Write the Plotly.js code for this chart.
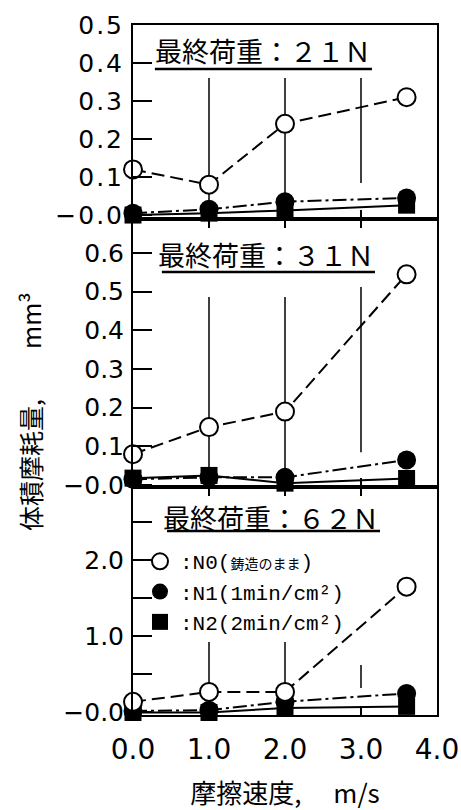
<!DOCTYPE html>
<html>
<head>
<meta charset="utf-8">
<script src="https://cdn.plot.ly/plotly-3.0.1.min.js"></script>
<style>
  html, body { margin: 0; padding: 0; background: #fff; }
  #chart { width: 461px; height: 810px; }
  /* wide, airy numerals on the value and speed axes */
  #chart .ytick text, #chart .xtick text { letter-spacing: 2px; }
</style>
</head>
<body>
<div id="chart"></div>
<script>
// Sliding speed (m/s) at which each specimen was tested
const speed = [0.0, 1.0, 2.0, 3.6];

// Volumetric wear (mm^3), final load 21 N
const n0_21N = [0.12, 0.08, 0.24, 0.31];
const n1_21N = [0.005, 0.015, 0.035, 0.045];
const n2_21N = [0.0, 0.005, 0.012, 0.026];

// Volumetric wear (mm^3), final load 31 N
const n0_31N = [0.08, 0.15, 0.19, 0.545];
const n1_31N = [0.015, 0.02, 0.02, 0.065];
const n2_31N = [0.018, 0.025, 0.005, 0.017];

// Volumetric wear (mm^3), final load 62 N
const n0_62N = [0.14, 0.27, 0.27, 1.65];
const n1_62N = [0.02, 0.03, 0.14, 0.25];
const n2_62N = [0.0, 0.0, 0.06, 0.08];

// Panel headings and legend names
const panelTitles = ['最終荷重：２１Ｎ', '最終荷重：３１Ｎ', '最終荷重：６２Ｎ'];
const seriesNames = [
  ':N0(<span style="font-size:14px">鋳造のまま</span>)',
  ':N1(1min/cm\u00b2)',
  ':N2(2min/cm\u00b2)'
];

// Axis ticks
const xTickVals = [0, 1, 2, 3, 4];
const xTickText = ['0.0', '1.0', '2.0', '3.0', '4.0'];
const yTickVals21 = [0, 0.1, 0.2, 0.3, 0.4, 0.5];
const yTickText21 = ['\u22120.0', '0.1', '0.2', '0.3', '0.4', '0.5'];
const yTickVals31 = [0, 0.1, 0.2, 0.3, 0.4, 0.5, 0.6];
const yTickText31 = ['\u22120.0', '0.1', '0.2', '0.3', '0.4', '0.5', '0.6'];
const yTickVals62 = [0, 1.0, 2.0];
const yTickText62 = ['\u22120.0', '1.0', '2.0'];
const yMinorStep62 = 0.5;

const INK = '#000';
const numFont = { family: 'DejaVu Sans, sans-serif', color: INK };
const cjkFont = { family: 'Noto Sans CJK JP, sans-serif', color: INK };

// Series styles: open circles / dashed, filled circles / dash-dot, squares / solid
const styleN0 = {
  mode: 'lines+markers',
  line: { color: INK, width: 2, dash: '13px,6px' },
  marker: { symbol: 'circle', size: 18, color: '#fff', line: { color: INK, width: 2 } }
};
const styleN1 = {
  mode: 'lines+markers',
  line: { color: INK, width: 2, dash: '14px,4px,3px,4px' },
  marker: { symbol: 'circle', size: 19, color: INK, line: { width: 0 } }
};
const styleN2 = {
  mode: 'lines+markers',
  line: { color: INK, width: 2 },
  marker: { symbol: 'square', size: 17, color: INK, line: { width: 0 } }
};

function series(style, ys, xa, ya, name) {
  return Object.assign({}, style, {
    x: speed, y: ys, xaxis: xa, yaxis: ya, name: name,
    showlegend: false, hoverinfo: 'x+y', cliponaxis: false
  });
}

// Marker-only entries for the legend in the 62 N panel
function legendEntry(style, name) {
  return {
    x: [null], y: [null], xaxis: 'x3', yaxis: 'y3', mode: 'markers',
    marker: style.marker, name: name, showlegend: true, hoverinfo: 'skip'
  };
}

const data = [
  series(styleN2, n2_21N, 'x', 'y', 'N2'),
  series(styleN1, n1_21N, 'x', 'y', 'N1'),
  series(styleN0, n0_21N, 'x', 'y', 'N0'),
  series(styleN2, n2_31N, 'x2', 'y2', 'N2'),
  series(styleN1, n1_31N, 'x2', 'y2', 'N1'),
  series(styleN0, n0_31N, 'x2', 'y2', 'N0'),
  series(styleN2, n2_62N, 'x3', 'y3', 'N2'),
  series(styleN1, n1_62N, 'x3', 'y3', 'N1'),
  series(styleN0, n0_62N, 'x3', 'y3', 'N0'),
  legendEntry(styleN0, seriesNames[0]),
  legendEntry(styleN1, seriesNames[1]),
  legendEntry(styleN2, seriesNames[2])
];

function xAxis(anchor, showLabels, mirror) {
  return {
    anchor: anchor, range: [0, 4], showgrid: false, zeroline: false,
    showline: true, linecolor: INK, linewidth: 2, mirror: mirror,
    tickmode: 'array', tickvals: xTickVals, ticktext: xTickText,
    ticks: 'inside', ticklen: 9, tickwidth: 1.5, tickcolor: INK,
    showticklabels: showLabels, tickfont: Object.assign({ size: 28 }, numFont),
    ticklabelstandoff: 8, fixedrange: true
  };
}

function yAxis(anchor, domain, range, vals, text) {
  return {
    anchor: anchor, domain: domain, range: range, showgrid: false, zeroline: false,
    showline: true, linecolor: INK, linewidth: 2, mirror: true,
    tickmode: 'array', tickvals: vals, ticktext: text,
    ticks: 'inside', ticklen: 19, tickwidth: 2, tickcolor: INK,
    tickfont: Object.assign({ size: 25 }, numFont), ticklabelstandoff: 2,
    fixedrange: true
  };
}

// Short tick stubs on the outer side of each value axis
function yStub(base, range, vals) {
  return {
    overlaying: base, anchor: 'free', position: 0, range: range,
    showgrid: false, zeroline: false, showline: false,
    tickmode: 'array', tickvals: vals, ticks: 'outside', ticklen: 5,
    tickwidth: 2, tickcolor: INK, showticklabels: false, fixedrange: true
  };
}

const range21 = [-0.0105, 0.5];
const range31 = [-0.005, 0.688];
const range62 = [-0.033, 2.957];

// Partial vertical guide lines at 1, 2 and 3 m/s
function guide(xa, ya, xv, y0, y1) {
  return {
    type: 'line', layer: 'below', xref: xa, yref: ya + ' domain',
    x0: xv, x1: xv, y0: y0, y1: y1, line: { color: INK, width: 1.5 }
  };
}
function underline(ya, xa, x0, x1, yv) {
  return {
    type: 'line', xref: xa + ' domain', yref: ya + ' domain',
    x0: x0, x1: x1, y0: yv, y1: yv, line: { color: INK, width: 2.5 }
  };
}

const shapes = [
  guide('x', 'y', 1, 0, 0.727), guide('x', 'y', 2, 0, 0.727), guide('x', 'y', 3, 0.186, 0.727),
  guide('x2', 'y2', 1, 0, 0.709), guide('x2', 'y2', 2, 0, 0.709), guide('x2', 'y2', 3, 0.13, 0.746),
  guide('x3', 'y3', 1, 0, 0.32), guide('x3', 'y3', 2, 0, 0.32), guide('x3', 'y3', 3, 0.118, 0.219),
  underline('y', 'x', 0.072, 0.786, 0.773),
  underline('y2', 'x2', 0.095, 0.796, 0.802),
  underline('y3', 'x3', 0.112, 0.8125, 0.807)
];

function heading(xa, ya, text, xv, yv) {
  return {
    xref: xa + ' domain', yref: ya + ' domain', x: xv, y: yv,
    xanchor: 'center', yanchor: 'middle', showarrow: false, text: text,
    font: Object.assign({ size: 27 }, cjkFont)
  };
}

const annotations = [
  heading('x', 'y', panelTitles[0], 0.429, 0.871),
  heading('x2', 'y2', panelTitles[1], 0.4375, 0.866),
  heading('x3', 'y3', panelTitles[2], 0.454, 0.868),
  {
    xref: 'paper', yref: 'paper', x: -0.339, y: 0.4406, textangle: -90,
    xanchor: 'center', yanchor: 'middle', showarrow: false,
    text: '体積摩耗量,\u3000\u3000mm\u00b3',
    font: Object.assign({ size: 25 }, cjkFont)
  }
];

const stub62 = yStub('y3', range62, null);
stub62.tickmode = 'linear';
stub62.tick0 = 0;
stub62.dtick = yMinorStep62;
delete stub62.tickvals;

const y62 = yAxis('x3', [0, 0.3304], range62, yTickVals62, yTickText62);
y62.minor = { tick0: 0, dtick: yMinorStep62, ticks: 'inside', ticklen: 19, tickwidth: 2, tickcolor: INK, showgrid: false };

const layout = {
  width: 461, height: 810,
  margin: { l: 133, r: 24, t: 25, b: 95 },
  paper_bgcolor: '#fff', plot_bgcolor: '#fff',
  showlegend: true,
  legend: {
    x: 0.023, xanchor: 'left', y: 0.252, yanchor: 'top',
    bgcolor: 'rgba(0,0,0,0)', borderwidth: 0,
    font: { family: 'Liberation Mono, Noto Sans CJK JP, monospace', size: 21, color: INK },
    itemclick: false, itemdoubleclick: false
  },
  xaxis: xAxis('y', false, true),
  xaxis2: xAxis('y2', false, 'ticks'),
  xaxis3: Object.assign(xAxis('y3', true, 'ticks'), {
    title: { text: '摩擦速度,\u3000 m/s', font: Object.assign({ size: 26 }, cjkFont), standoff: 22 }
  }),
  yaxis: yAxis('x', [0.7188, 1], range21, yTickVals21, yTickText21),
  yaxis2: yAxis('x2', [0.3304, 0.7188], range31, yTickVals31, yTickText31),
  yaxis3: y62,
  yaxis4: yStub('y', range21, yTickVals21),
  yaxis5: yStub('y2', range31, yTickVals31),
  yaxis6: stub62,
  shapes: shapes,
  annotations: annotations
};

Plotly.newPlot('chart', data, layout, { displayModeBar: false, staticPlot: true });
</script>
</body>
</html>
